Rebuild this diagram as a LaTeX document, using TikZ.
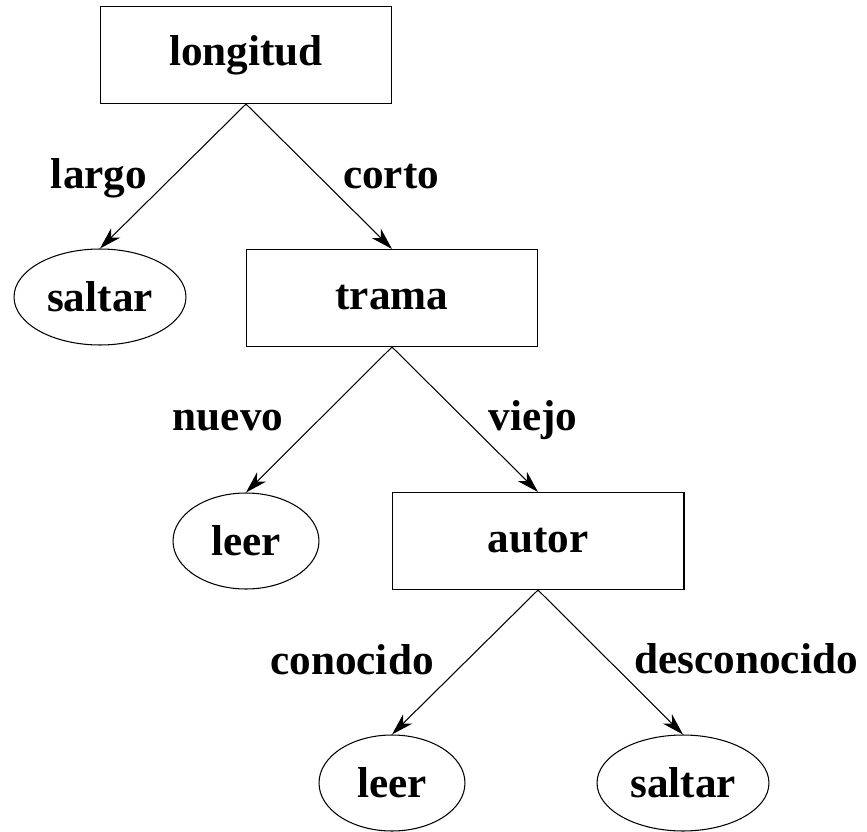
\documentclass[tikz,border=0pt]{standalone}
\usepackage{fontspec}
\setmainfont{Liberation Serif}
\usetikzlibrary{arrows.meta,shapes.geometric}
\begin{document}
\begin{tikzpicture}[x=0.02cm,y=-0.02cm,
  every node/.style={font=\fontsize{24.6}{29}\selectfont\bfseries},
  test/.style={draw,line width=0.6pt,rectangle,minimum width=5.84cm,minimum height=1.94cm,inner sep=0pt},
  hoja/.style={draw,line width=0.6pt,ellipse,minimum width=2.92cm,minimum height=1.92cm,inner sep=0pt},
  rama/.style={-{Stealth[length=0.44cm,width=0.26cm,inset=0.13cm]},line width=0.6pt}]
  \useasboundingbox (0,0) rectangle (867,832);
  % nodes
  \node[test] (longitud) at (246,55) {longitud};
  \node[hoja,minimum width=3.44cm] (saltarA) at (100,297) {saltar};
  \node[test] (trama) at (392,298) {trama};
  \node[hoja] (leerA) at (246,541) {leer};
  \node[test] (autor) at (538,541) {autor};
  \node[hoja] (leerB) at (392,783) {leer};
  \node[hoja,minimum width=3.44cm] (saltarB) at (683,783) {saltar};
  % branches
  \draw [rama] (longitud.south) -- (saltarA.north);
  \draw [rama] (longitud.south) -- (trama.north);
  \draw [rama] (trama.south) -- (leerA.north);
  \draw [rama] (trama.south) -- (autor.north);
  \draw [rama] (autor.south) -- (leerB.north);
  \draw [rama] (autor.south) -- (saltarB.north);
  % labels
  \node[anchor=base] (largo) at (99,188) {largo};
  \node[anchor=base] (corto) at (391,188) {corto};
  \node[anchor=base] (nuevo) at (228,430) {nuevo};
  \node[anchor=base] (viejo) at (533,430) {viejo};
  \node[anchor=base] (conocido) at (352,674) {conocido};
  \node[anchor=base] (desconocido) at (746,673) {desconocido};
\end{tikzpicture}
\end{document}
